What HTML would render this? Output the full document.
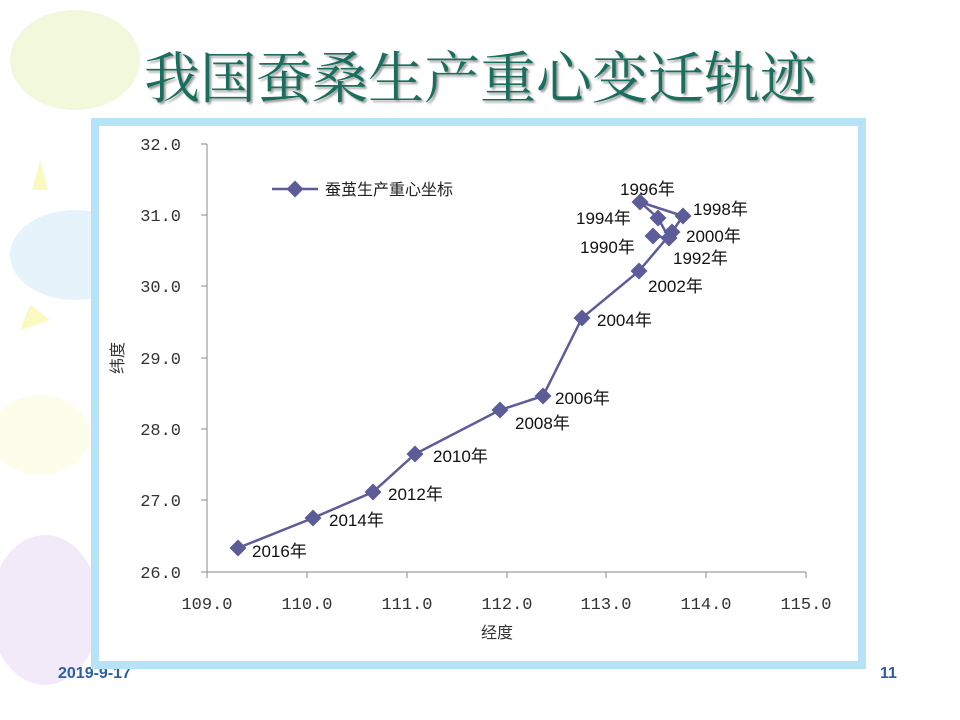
<!DOCTYPE html>
<html><head><meta charset="utf-8"><style>
body{margin:0;width:960px;height:720px;overflow:hidden;background:#fff;font-family:"Liberation Sans","Noto Sans CJK SC",sans-serif;}
</style></head><body>
<svg width="960" height="720" xmlns="http://www.w3.org/2000/svg" style="position:absolute;left:0;top:0">
<ellipse cx="75" cy="60" rx="65" ry="50" fill="#f1f8dc"/>
<ellipse cx="75" cy="255" rx="65" ry="45" fill="#e6f3fb"/>
<ellipse cx="40" cy="435" rx="50" ry="40" fill="#fdfdec"/>
<ellipse cx="45" cy="610" rx="55" ry="75" fill="#f3eaf9"/>
<polygon points="40,160 48,190 32,190" fill="#fafac0"/>
<polygon points="50,320 30,305 20,330" fill="#fafac0"/>
<text x="480" y="98" text-anchor="middle" font-family="Noto Serif CJK SC, serif" font-size="56" fill="#1a6e5e" style="text-shadow:2px 2px 2px #999">我国蚕桑生产重心变迁轨迹</text>
<text x="58" y="678" font-size="16" font-weight="bold" fill="#2a5fa0">2019-9-17</text>
<text x="880" y="678" font-size="16" font-weight="bold" fill="#2a5fa0">11</text>
<rect x="95" y="122" width="767" height="543" fill="#fff" stroke="#b7e3f6" stroke-width="8"/>
<g stroke="#888" stroke-width="1" fill="none">
<line x1="207" y1="144" x2="207" y2="572"/>
<line x1="207" y1="572" x2="806" y2="572"/>
<line x1="201" y1="144" x2="207" y2="144"/><line x1="201" y1="215" x2="207" y2="215"/><line x1="201" y1="286" x2="207" y2="286"/><line x1="201" y1="358" x2="207" y2="358"/><line x1="201" y1="429" x2="207" y2="429"/><line x1="201" y1="500" x2="207" y2="500"/><line x1="201" y1="572" x2="207" y2="572"/>
<line x1="207" y1="572" x2="207" y2="578"/><line x1="307" y1="572" x2="307" y2="578"/><line x1="407" y1="572" x2="407" y2="578"/><line x1="507" y1="572" x2="507" y2="578"/><line x1="606" y1="572" x2="606" y2="578"/><line x1="706" y1="572" x2="706" y2="578"/><line x1="806" y1="572" x2="806" y2="578"/>
</g>
<g font-family="'Liberation Mono','Noto Serif CJK SC',monospace" font-size="17" fill="#333" text-anchor="end">
<text x="181" y="150">32.0</text><text x="181" y="221">31.0</text><text x="181" y="292">30.0</text><text x="181" y="364">29.0</text><text x="181" y="435">28.0</text><text x="181" y="506">27.0</text><text x="181" y="578">26.0</text>
</g>
<g font-family="'Liberation Mono','Noto Serif CJK SC',monospace" font-size="17" fill="#333" text-anchor="middle">
<text x="207" y="609">109.0</text><text x="307" y="609">110.0</text><text x="407" y="609">111.0</text><text x="507" y="609">112.0</text><text x="606" y="609">113.0</text><text x="706" y="609">114.0</text><text x="806" y="609">115.0</text>
</g>
<text x="497" y="638" text-anchor="middle" font-size="16" fill="#333">经度</text>
<text transform="translate(123,358) rotate(-90)" text-anchor="middle" font-size="16" fill="#333">纬度</text>
<line x1="272" y1="189" x2="318" y2="189" stroke="#5c5c99" stroke-width="2.5"/>
<rect x="289" y="183" width="12" height="12" fill="#5c5c99" transform="rotate(45 295 189)"/>
<text x="325" y="195" font-size="16" fill="#222">蚕茧生产重心坐标</text>
<polyline fill="none" stroke="#5c5c99" stroke-width="2.5" points="653,236 669,238 658,218 640,202 683,216 672,232 639,271 582,318 543,396 500,410 415,454 373,492 313,518 238,548"/>
<g fill="#5c5c99">
<rect x="647" y="230" width="12" height="12" transform="rotate(45 653 236)"/>
<rect x="663" y="232" width="12" height="12" transform="rotate(45 669 238)"/>
<rect x="652" y="212" width="12" height="12" transform="rotate(45 658 218)"/>
<rect x="634" y="196" width="12" height="12" transform="rotate(45 640 202)"/>
<rect x="677" y="210" width="12" height="12" transform="rotate(45 683 216)"/>
<rect x="666" y="226" width="12" height="12" transform="rotate(45 672 232)"/>
<rect x="633" y="265" width="12" height="12" transform="rotate(45 639 271)"/>
<rect x="576" y="312" width="12" height="12" transform="rotate(45 582 318)"/>
<rect x="537" y="390" width="12" height="12" transform="rotate(45 543 396)"/>
<rect x="494" y="404" width="12" height="12" transform="rotate(45 500 410)"/>
<rect x="409" y="448" width="12" height="12" transform="rotate(45 415 454)"/>
<rect x="367" y="486" width="12" height="12" transform="rotate(45 373 492)"/>
<rect x="307" y="512" width="12" height="12" transform="rotate(45 313 518)"/>
<rect x="232" y="542" width="12" height="12" transform="rotate(45 238 548)"/>
</g>
<g font-size="17" fill="#111">
<text x="620" y="195">1996年</text>
<text x="576" y="224">1994年</text>
<text x="693" y="215">1998年</text>
<text x="580" y="253">1990年</text>
<text x="686" y="242">2000年</text>
<text x="673" y="264">1992年</text>
<text x="648" y="292">2002年</text>
<text x="597" y="326">2004年</text>
<text x="555" y="404">2006年</text>
<text x="515" y="429">2008年</text>
<text x="433" y="462">2010年</text>
<text x="388" y="500">2012年</text>
<text x="329" y="526">2014年</text>
<text x="252" y="557">2016年</text>
</g>
</svg>
</body></html>
